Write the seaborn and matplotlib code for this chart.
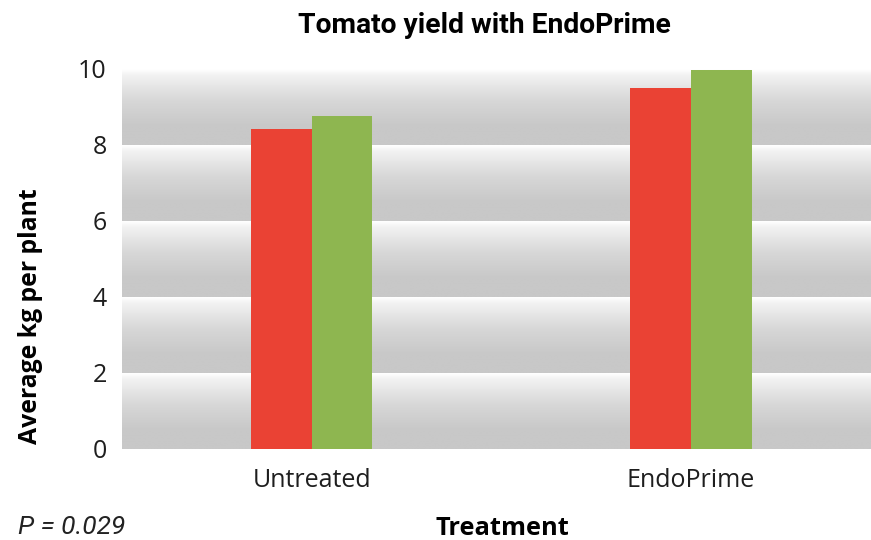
import numpy as np
import pandas as pd
import matplotlib
matplotlib.use("Agg")
import matplotlib.pyplot as plt
import seaborn as sns

# Yield data (average kg per plant)
treatments = ["Untreated", "EndoPrime"]
trial_1 = [8.42, 9.50]
trial_2 = [8.76, 9.97]
trial_names = ["Trial 1", "Trial 2"]
y_ticks = [0, 2, 4, 6, 8, 10]

df = pd.DataFrame({
    "Treatment": treatments * 2,
    "Yield": trial_1 + trial_2,
    "Trial": [trial_names[0]] * 2 + [trial_names[1]] * 2,
})

sns.set_theme(style="white")
plt.rcParams["font.family"] = ["Open Sans", "DejaVu Sans"]

W, H = 871, 540
fig = plt.figure(figsize=(W / 100, H / 100), dpi=100)
ax = fig.add_axes([122 / W, 1 - 449 / H, (W - 122) / W, (449 - 69) / H])

xlim = (-0.5, 1.475)

# Banded gradient background: white at each gridline fading to grey below it
t = np.linspace(0, 1, 200)
shade = np.interp(t, [0, 0.08, 0.4, 0.75, 1.0], [255, 242, 216, 200, 200]) / 255.0
grad = np.repeat(shade[:, None], 2, axis=1)
grad_rgb = np.dstack([grad, grad, grad])
for lo, hi in zip(y_ticks[:-1], y_ticks[1:]):
    ax.imshow(grad_rgb, extent=(xlim[0], xlim[1], lo, hi), origin="upper",
              aspect="auto", zorder=0, interpolation="bilinear")

sns.barplot(data=df, x="Treatment", y="Yield", hue="Trial",
            palette=["#ea4234", "#8eb650"], width=0.32, linewidth=0,
            saturation=1, legend=False, ax=ax, zorder=2)

ax.set_xlim(*xlim)
ax.set_ylim(0, 10)
ax.set_yticks(y_ticks)
ax.set_yticklabels([str(v) for v in y_ticks])
for s in ax.spines.values():
    s.set_visible(False)
ax.tick_params(axis="y", length=0, pad=11, labelsize=18, labelcolor="#1e1e1e")
ax.tick_params(axis="x", length=0, pad=14, labelsize=18, labelcolor="#1e1e1e")
ax.set_xlabel("")
ax.set_ylabel("")

fig.text(502 / W, 1 - 535 / H, "Treatment", ha="center", va="baseline",
         fontsize=18.3, fontweight="bold", color="black")
fig.text(18 / W, 1 - 316 / H, "Average kg per plant", ha="left", va="center",
         rotation=90, fontsize=17.8, fontweight="bold", color="black")
fig.text(484 / W, 1 - 33 / H, "Tomato yield with EndoPrime", ha="center", va="baseline",
         fontsize=20.3, fontweight="bold", family=["Roboto", "DejaVu Sans"], color="black")
fig.text(18 / W, 1 - 534 / H, "P = 0.029", ha="left", va="baseline",
         fontsize=19, fontstyle="italic", fontweight="normal",
         family=["Roboto", "DejaVu Sans"], color="#222222")

fig.savefig("out.png", dpi=100)
